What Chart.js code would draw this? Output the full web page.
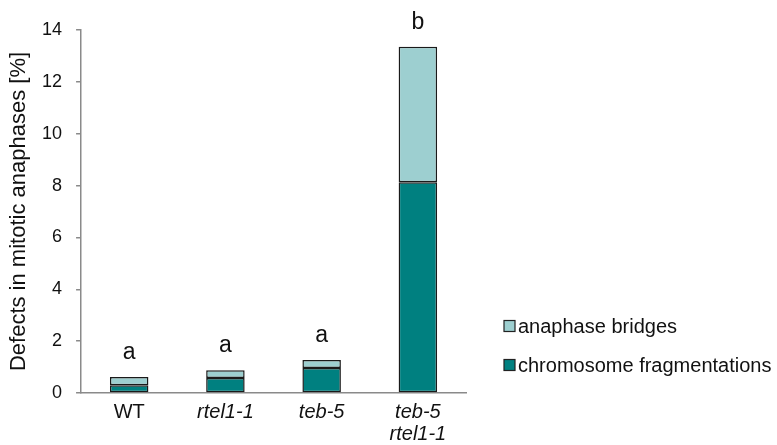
<!DOCTYPE html>
<html>
<head>
<meta charset="utf-8">
<script src="https://cdn.jsdelivr.net/npm/chart.js@4.4.1/dist/chart.umd.min.js"></script>
<style>
  html, body { margin: 0; padding: 0; background: #fff; }
  #wrap { width: 777px; height: 445px; position: relative; }
</style>
</head>
<body>
<div id="wrap"><canvas id="grafico"></canvas></div>
<script>
// datos
const categorias = ['WT', 'rtel1-1', 'teb-5', ['teb-5', 'rtel1-1']];
const fragmentaciones = [0.30, 0.58, 0.96, 8.13];
const puentes = [0.32, 0.30, 0.31, 5.22];
const letras = ['a', 'a', 'a', 'b'];
const ticksY = [0, 2, 4, 6, 8, 10, 12, 14];

const FUENTE = 'Liberation Sans, Arial, sans-serif';
const colorOscuro = '#008080';
const colorClaro = '#9dcfd0';

// letras de significancia sobre cada barra
const pluginLetras = {
    id: 'letras',
    afterDatasetsDraw(chart) {
        const ctx = chart.ctx;
        const meta = chart.getDatasetMeta(1);
        ctx.save();
        ctx.fillStyle = '#111';
        ctx.font = '23px ' + FUENTE;
        ctx.textAlign = 'center';
        ctx.textBaseline = 'alphabetic';
        meta.data.forEach((bar, i) => {
            ctx.fillText(letras[i], bar.x, bar.y - 18);
        });
        ctx.restore();
    }
};

// leyenda a la derecha, abajo
const pluginLeyenda = {
    id: 'leyendaManual',
    afterDraw(chart) {
        const ctx = chart.ctx;
        const items = [
            { texto: 'anaphase bridges', color: colorClaro },
            { texto: 'chromosome fragmentations', color: colorOscuro }
        ];
        ctx.save();
        ctx.font = '20px ' + FUENTE;
        ctx.textBaseline = 'middle';
        items.forEach((it, i) => {
            const y = 326 + i * 39;
            ctx.fillStyle = it.color;
            ctx.fillRect(504, y - 5.5, 11, 11);
            ctx.strokeStyle = '#222';
            ctx.lineWidth = 1.2;
            ctx.strokeRect(504, y - 5.5, 11, 11);
            ctx.fillStyle = '#111';
            ctx.fillText(it.texto, 518, y + 1);
        });
        ctx.restore();
    }
};

new Chart(document.getElementById('grafico'), {
    type: 'bar',
    data: {
        labels: categorias,
        datasets: [
            {
                label: 'chromosome fragmentations',
                data: fragmentaciones,
                backgroundColor: colorOscuro,
                borderColor: '#1a1a1a',
                borderWidth: 1.5,
                borderSkipped: false
            },
            {
                label: 'anaphase bridges',
                data: puentes,
                backgroundColor: colorClaro,
                borderColor: '#1a1a1a',
                borderWidth: 1.5,
                borderSkipped: false
            }
        ]
    },
    options: {
        responsive: true,
        maintainAspectRatio: false,
        animation: false,
        layout: { padding: { left: 10, right: 311, top: 30, bottom: -8 } },
        plugins: {
            legend: { display: false },
            tooltip: { enabled: false }
        },
        datasets: { bar: { barPercentage: 0.8, categoryPercentage: 0.5 } },
        scales: {
            x: {
                stacked: true,
                grid: { display: false, drawTicks: false },
                border: { color: '#8a8a8a', width: 1.5 },
                ticks: {
                    color: '#111',
                    padding: 8,
                    maxRotation: 0,
                    font: (c) => ({ family: FUENTE, size: 20, style: c.index > 0 ? 'italic' : 'normal', lineHeight: 1.1 })
                }
            },
            y: {
                stacked: true,
                min: 0,
                max: 14,
                afterBuildTicks: (eje) => { eje.ticks = ticksY.map(v => ({ value: v })); },
                grid: { drawOnChartArea: false, drawTicks: true, tickLength: 5, color: '#8a8a8a', lineWidth: 1.5 },
                border: { color: '#8a8a8a', width: 1.5 },
                ticks: { color: '#111', padding: 14, font: { family: FUENTE, size: 18 } },
                title: {
                    display: true,
                    text: 'Defects in mitotic anaphases [%]',
                    color: '#111',
                    padding: { top: 0, bottom: 0 },
                    font: { family: FUENTE, size: 22, lineHeight: 0.82 }
                }
            }
        }
    },
    plugins: [pluginLetras, pluginLeyenda]
});
</script>
</body>
</html>
